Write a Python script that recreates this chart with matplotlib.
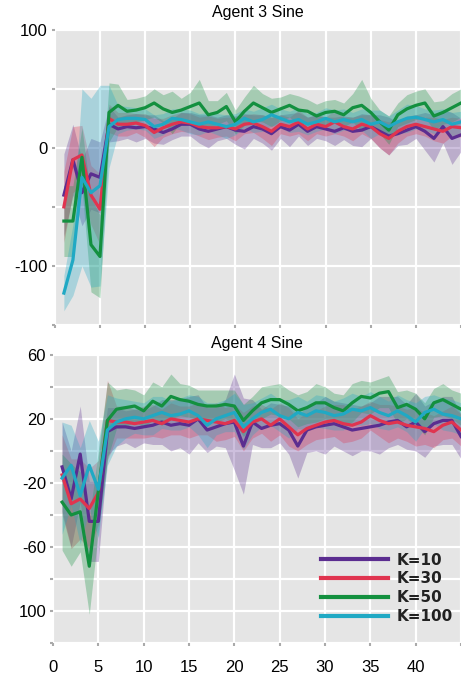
import numpy as np
import matplotlib
matplotlib.use("Agg")
from matplotlib import pyplot as plt

plt.rcParams['font.family'] = ['Liberation Sans', 'DejaVu Sans']

steps = list(range(1, 46))
labels = ["K=10", "K=30", "K=50", "K=100"]
colors = ["#5b2d90", "#e0344f", "#13903f", "#20a9c4"]

# Agent 3 Sine: mean reward per step
top_k10 = [-40, -10, -38, -22, -25, 20, 16, 18, 17, 18, 16, 13, 16, 20, 20, 16, 14, 16, 18, 15,
           14, 18, 16, 12, 18, 15, 20, 14, 18, 16, 14, 17, 14, 15, 18, 14, 10, 12, 15, 18,
           14, 8, 18, 8, 11]
top_k30 = [-50, -10, -6, -40, -52, 25, 20, 20, 21, 19, 13, 17, 20, 22, 21, 18, 17, 17, 18, 16,
           20, 21, 18, 14, 20, 18, 22, 16, 20, 18, 22, 18, 16, 20, 18, 12, 8, 14, 18, 20,
           18, 16, 14, 18, 17]
top_k50 = [-62, -62, -8, -82, -92, 30, 36, 31, 32, 34, 38, 33, 30, 32, 35, 38, 28, 30, 35, 22,
           31, 38, 34, 30, 33, 36, 32, 31, 27, 30, 31, 28, 34, 36, 30, 22, 15, 28, 33, 36,
           38, 27, 30, 34, 38]
top_k100 = [-123, -95, -25, -38, -32, 18, 24, 25, 25, 24, 18, 20, 25, 24, 22, 20, 22, 20, 18, 20,
            25, 22, 24, 28, 25, 22, 24, 20, 22, 25, 22, 24, 22, 24, 20, 22, 18, 22, 25, 26,
            24, 22, 24, 20, 22]

top_k10_sd = [35, 30, 28, 30, 30, 15, 10, 10, 12, 10, 12, 10, 9, 10, 10, 12, 14, 10, 10, 12,
              15, 10, 12, 14, 10, 14, 10, 12, 10, 10, 12, 10, 12, 14, 10, 14, 16, 10, 12, 10,
              16, 20, 14, 22, 14]
top_k30_sd = [30, 28, 25, 25, 30, 12, 10, 10, 8, 10, 12, 8, 8, 8, 8, 8, 10, 8, 8, 10,
              8, 8, 10, 12, 8, 8, 10, 10, 8, 8, 10, 8, 10, 8, 10, 12, 14, 10, 8, 8,
              8, 10, 10, 8, 8]
top_k50_sd = [30, 30, 25, 40, 35, 25, 18, 10, 10, 10, 12, 12, 18, 10, 12, 20, 12, 10, 12, 10,
              12, 15, 12, 12, 10, 10, 12, 10, 10, 10, 10, 10, 12, 22, 12, 10, 12, 10, 12, 12,
              12, 12, 10, 12, 12]
top_k100_sd = [15, 30, 75, 80, 85, 35, 12, 10, 9, 9, 10, 9, 8, 9, 10, 9, 8, 9, 10, 9,
               8, 9, 10, 9, 8, 9, 10, 9, 8, 9, 10, 9, 8, 9, 12, 10, 9, 10, 12, 10,
               9, 10, 9, 10, 9]

# Agent 4 Sine: mean reward per step
bot_k10 = [-10, -30, -2, -44, -44, 12, 15, 15, 14, 15, 16, 18, 16, 17, 16, 20, 13, 15, 17, 18,
           3, 18, 14, 16, 17, 13, 3, 13, 15, 16, 17, 15, 13, 14, 15, 16, 18, 19, 15, 18,
           12, 17, 19, 19, 9]
bot_k30 = [-15, -33, -30, -36, -26, 19, 18, 18, 17, 18, 19, 17, 20, 19, 18, 20, 19, 18, 17, 19,
           12, 18, 20, 16, 20, 15, 10, 14, 16, 18, 19, 17, 16, 18, 22, 19, 17, 18, 16, 15,
           14, 12, 16, 18, 13]
bot_k50 = [-32, -40, -38, -72, -25, 19, 26, 27, 28, 25, 31, 28, 34, 32, 31, 29, 28, 28, 29, 28,
           19, 25, 30, 32, 32, 29, 25, 27, 30, 30, 27, 25, 30, 34, 33, 36, 37, 27, 29, 26,
           20, 30, 32, 29, 26]
bot_k100 = [-17, -9, -28, -9, -24, 13, 18, 20, 21, 20, 22, 24, 22, 23, 25, 22, 16, 20, 22, 24,
            15, 20, 24, 26, 22, 20, 24, 22, 25, 24, 22, 23, 26, 25, 27, 24, 22, 25, 22, 18,
            24, 26, 23, 22, 20]

bot_k10_sd = [28, 30, 30, 25, 25, 15, 12, 10, 12, 10, 12, 14, 16, 15, 18, 15, 14, 12, 15, 30,
              30, 14, 12, 14, 12, 15, 20, 14, 15, 18, 14, 15, 16, 14, 15, 18, 16, 15, 14, 18,
              16, 14, 15, 15, 14]
bot_k30_sd = [25, 28, 25, 25, 20, 25, 10, 10, 9, 10, 10, 9, 10, 9, 10, 10, 9, 12, 10, 10,
              12, 10, 9, 10, 10, 12, 10, 10, 9, 10, 10, 12, 10, 10, 9, 10, 12, 10, 10, 12,
              10, 10, 9, 10, 10]
bot_k50_sd = [30, 32, 25, 30, 25, 24, 12, 12, 10, 10, 12, 12, 14, 10, 10, 9, 10, 10, 9, 10,
              10, 9, 10, 9, 10, 9, 10, 10, 12, 10, 9, 10, 12, 10, 10, 9, 10, 10, 9, 10,
              10, 9, 10, 9, 10]
bot_k100_sd = [35, 25, 30, 28, 30, 22, 15, 12, 10, 10, 12, 10, 9, 10, 10, 12, 14, 10, 10, 12,
               14, 10, 9, 10, 10, 12, 10, 9, 10, 10, 9, 10, 10, 9, 10, 10, 9, 10, 10, 12,
               10, 9, 10, 10, 10]

top_means = [top_k10, top_k30, top_k50, top_k100]
top_sds = [top_k10_sd, top_k30_sd, top_k50_sd, top_k100_sd]
bot_means = [bot_k10, bot_k30, bot_k50, bot_k100]
bot_sds = [bot_k10_sd, bot_k30_sd, bot_k50_sd, bot_k100_sd]

top_yticks = [-100, 0, 100]
top_yminor = [-150, -50, 50]
bot_yticks = [-100, -60, -20, 20, 60]
bot_yticklabels = ["100", "-60", "-20", "20", "60"]
bot_yminor = [-120, -80, -40, 0, 40]
xticks = [0, 5, 10, 15, 20, 25, 30, 35, 40]

fig = plt.figure(figsize=(4.61, 6.77), dpi=100)
ax1 = fig.add_axes([0.119, 0.52, 0.881, 0.436])
ax2 = fig.add_axes([0.115, 0.05, 0.885, 0.426])


def draw_panel(ax, means, sds, title, title_pad):
    ax.set_facecolor("#e5e5e5")
    x = np.array(steps)
    for m, s, c in zip(means, sds, colors):
        m = np.array(m, dtype=float)
        s = np.array(s, dtype=float)
        ax.fill_between(x, m - s, m + s, color=c, alpha=0.3, lw=0, zorder=2)
    order = [3, 1, 2, 0]
    for i in order:
        ax.plot(x, means[i], color=colors[i], lw=2.3, label=labels[i], zorder=3 + i)
    ax.set_xlim(0, 45)
    ax.set_xticks(list(range(0, 46, 5)))
    ax.grid(True, which="both", color="white", lw=1.6, zorder=1)
    ax.set_axisbelow(True)
    for sp in ax.spines.values():
        sp.set_visible(False)
    ax.tick_params(which="both", length=2, width=1.5, color="#aaaaaa", labelsize=12, pad=3)
    ax.set_title(title, fontsize=11.5, pad=title_pad)


draw_panel(ax1, top_means, top_sds, "Agent 3 Sine", 9)
ax1.set_ylim(-150, 100)
ax1.set_yticks(top_yticks)
ax1.set_yticks(top_yminor, minor=True)
ax1.set_yticklabels([str(v) for v in top_yticks])
ax1.set_xticklabels([])

draw_panel(ax2, bot_means, bot_sds, "Agent 4 Sine", 5)
ax2.set_ylim(-120, 60)
ax2.set_yticks(bot_yticks)
ax2.set_yticks(bot_yminor, minor=True)
ax2.set_yticklabels(bot_yticklabels)
ax2.set_xticks(xticks)
ax2.set_xticks([45], minor=True)
ax2.set_xticklabels([str(v) for v in xticks])
ax2.tick_params(axis="x", pad=10)

handles, labs = ax2.get_legend_handles_labels()
idx = [labs.index(l) for l in labels]
leg = ax2.legend([handles[i] for i in idx], labels, loc="lower right",
                 bbox_to_anchor=(1.0, 0.04), frameon=False,
                 prop={"family": "DejaVu Sans", "weight": "bold", "size": 11},
                 handlelength=4.4, handletextpad=0.6, labelspacing=0.25, borderpad=0)
for line in leg.get_lines():
    line.set_linewidth(3)
for t in leg.get_texts():
    t.set_color("#222222")

fig.savefig("out.png", dpi=100)
